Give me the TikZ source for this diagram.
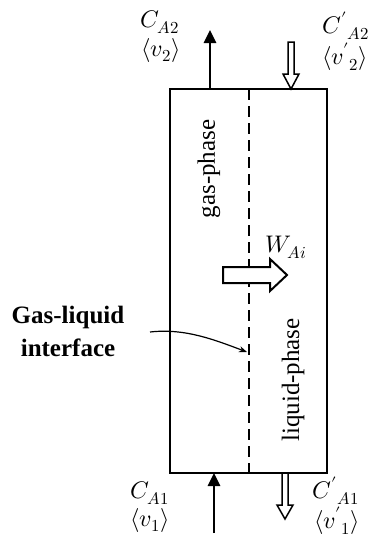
\documentclass[tikz,border=0pt]{standalone}
\usepackage{fontspec}
\usepackage{unicode-math}
\setmainfont{Liberation Serif}
\setmathfont{Latin Modern Math}
\usetikzlibrary{arrows.meta}
\begin{document}
\begin{tikzpicture}[x=1pt,y=-1pt,
  wall/.style={line width=2pt},
  flow/.style={line width=2.6pt,-{Triangle[length=13pt,width=12pt]}},
  hollow/.style={line width=1.5pt, fill=white, line join=miter},
  mlabel/.style={font=\fontsize{24}{27}\selectfont, inner sep=0pt},
  phase/.style={font=\fontsize{25}{30}\selectfont, rotate=90, inner sep=0pt}]
\useasboundingbox (0,0) rectangle (374,538);
% vessel
\node[wall, draw, minimum width=157pt, minimum height=384pt, inner sep=0pt, outer sep=0pt] (vessel) at (248.5,281) {};
% interface
\coordinate (itop) at (249,89);
\coordinate (ibot) at (249,473);
\draw[line width=2.5pt, dash pattern=on 11pt off 6pt] (itop) -- (ibot);
% phase labels
\node[phase] (gas) at (209,169) {gas-phase};
\node[phase] (liq) at (293,380) {liquid-phase};
% flows
\coordinate (o2) at (210,30);
\draw[flow] (vessel.north -| o2) -- (o2);
\coordinate (i1) at (214,533);
\draw[flow] (i1) -- (vessel.south -| i1);
\draw[hollow] (288,42) -- (294,42) -- (294,74) -- (299,74) -- (291,89) -- (283,74) -- (288,74) -- cycle;
\draw[hollow] (282,473) -- (288,473) -- (288,505) -- (293,505) -- (285,519) -- (277,505) -- (282,505) -- cycle;
% transfer arrow
\draw[hollow, line width=2pt] (223,267) -- (270,267) -- (270,259) -- (287,275) -- (270,291) -- (270,283) -- (223,283) -- cycle;
\node[mlabel] (w) at (286,247) {$W_{Ai}$};
% stream labels
\node[mlabel] (ca2) at (160,22) {$C_{A2}$};
\node[mlabel] (v2) at (161,50) {$\langle v_2\rangle$};
\node[mlabel] (cpa2) at (346,26) {$C^{\prime}{}_{A2}$};
\node[mlabel] (vp2) at (345,57) {$\langle v^{\prime}{}_2\rangle$};
\node[mlabel] (ca1) at (150,493) {$C_{A1}$};
\node[mlabel] (v1) at (150,520) {$\langle v_1\rangle$};
\node[mlabel] (cpa1) at (336,491) {$C^{\prime}{}_{A1}$};
\node[mlabel] (vp1) at (337,521) {$\langle v^{\prime}{}_1\rangle$};
% interface label
\node[font=\bfseries\fontsize{25}{33}\selectfont, align=center, inner sep=0pt] (gli) at (68,331) {Gas-liquid\\interface};
\coordinate (cs) at (150,332);
\coordinate (ce) at (247,352);
\draw[line width=1.2pt, -{Stealth[length=8pt,width=6pt]}] (cs) .. controls (185,328) and (215,340) .. (ce);
\end{tikzpicture}
\end{document}
